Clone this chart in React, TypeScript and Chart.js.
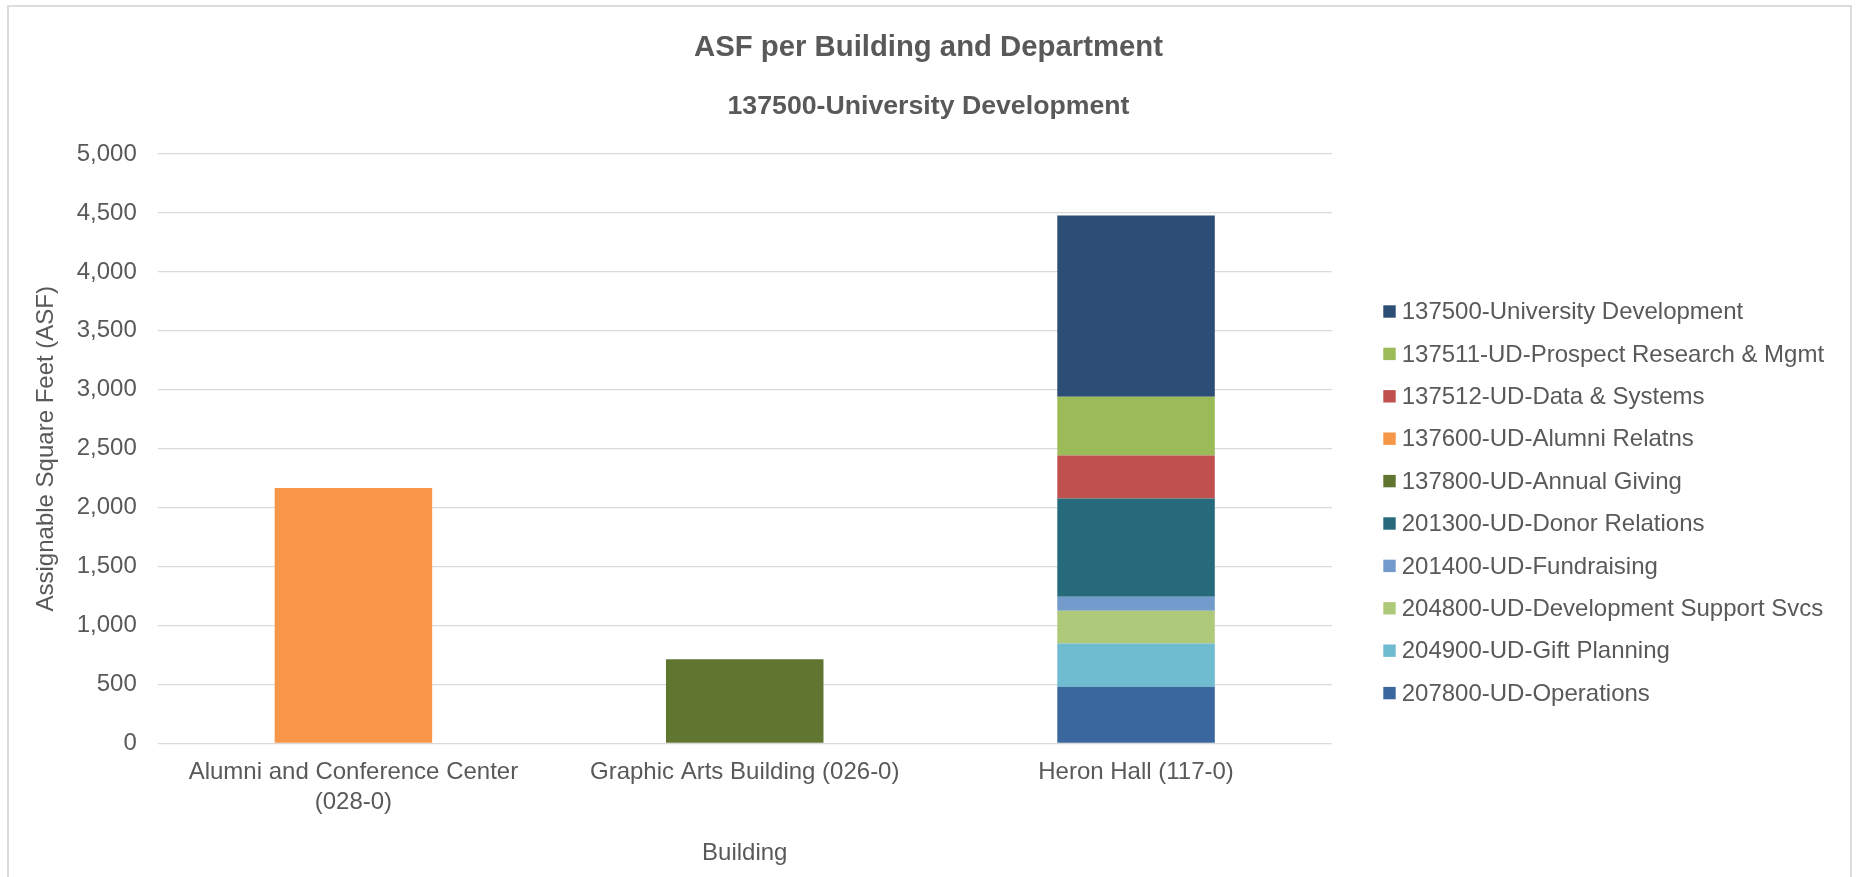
import React, { useEffect, useRef } from "react";
import { Chart, registerables } from "chart.js";

Chart.register(...registerables);

// ---- data ----
const categories: (string | string[])[] = [
  ["Alumni and Conference Center", "(028-0)"],
  "Graphic Arts Building (026-0)",
  "Heron Hall (117-0)",
];

// departments in legend order (top of legend first = top of stack)
const departments = [
  "137500-University Development",
  "137511-UD-Prospect Research & Mgmt",
  "137512-UD-Data & Systems",
  "137600-UD-Alumni Relatns",
  "137800-UD-Annual Giving",
  "201300-UD-Donor Relations",
  "201400-UD-Fundraising",
  "204800-UD-Development Support Svcs",
  "204900-UD-Gift Planning",
  "207800-UD-Operations",
];

const ud137500 = [null, null, 1536];
const ud137511 = [null, null, 500];
const ud137512 = [null, null, 363];
const ud137600 = [2168, null, null];
const ud137800 = [null, 715, null];
const ud201300 = [null, null, 834];
const ud201400 = [null, null, 118];
const ud204800 = [null, null, 279];
const ud204900 = [null, null, 366];
const ud207800 = [null, null, 482];

const seriesValues = [
  ud137500, ud137511, ud137512, ud137600, ud137800,
  ud201300, ud201400, ud204800, ud204900, ud207800,
];

const seriesColors = [
  "#2C4D75", "#9BBB59", "#C0504D", "#F79646", "#5F7530",
  "#276A7C", "#729ACA", "#AFC97A", "#6FBCD0", "#3A679D",
];

const yMin = 0;
const yMax = 5000;
const yStep = 500;

const chartTitle = "ASF per Building and Department";
const chartSubtitle = "137500-University Development";
const yAxisTitle = "Assignable Square Feet (ASF)";
const xAxisTitle = "Building";

const FONT = "'Liberation Sans', Arial, sans-serif";
const TEXT = "#595959";
const LEGEND_WIDTH = 525.3;

const legendPlugin = {
  id: "sideLegend",
  afterDraw(chart: any) {
    const { ctx, chartArea } = chart;
    const ds = chart.data.datasets;
    const x0 = chartArea.right + 51.6;
    const y0 = chartArea.top + 157.5;
    const step = 42.4;
    const box = 12.4;
    ctx.save();
    ctx.font = `24px ${FONT}`;
    ctx.textBaseline = "middle";
    ctx.textAlign = "left";
    for (let i = 0; i < ds.length; i++) {
      const d = ds[ds.length - 1 - i];
      const y = y0 + i * step;
      ctx.fillStyle = d.backgroundColor;
      ctx.fillRect(x0, y - box / 2, box, box);
      ctx.fillStyle = TEXT;
      ctx.fillText(d.label, x0 + 18.4, y + 1);
    }
    ctx.restore();
  },
};

export default function App() {
  const ref = useRef<HTMLCanvasElement>(null);

  useEffect(() => {
    if (!ref.current) return;
    // dataset order: bottom of stack first
    const datasets = departments
      .map((name, i) => ({
        label: name,
        data: seriesValues[i],
        backgroundColor: seriesColors[i],
        borderWidth: 0,
        barPercentage: 0.4025,
        categoryPercentage: 1,
        yAxisID: "y",
      }))
      .reverse();

    const chart = new Chart(ref.current, {
      type: "bar",
      data: { labels: categories as any, datasets },
      plugins: [legendPlugin],
      options: {
        responsive: false,
        animation: false,
        devicePixelRatio: 1,
        layout: { padding: { left: 0, right: 0, top: 0, bottom: 9.6 } },
        plugins: {
          legend: { display: false },
          tooltip: { enabled: false },
          title: {
            display: true,
            text: chartTitle,
            color: TEXT,
            font: { family: FONT, size: 29.3, weight: "bold", lineHeight: 1.2 },
            padding: { top: 29.9, bottom: 0 },
          },
          subtitle: {
            display: true,
            text: chartSubtitle,
            color: TEXT,
            font: { family: FONT, size: 26.7, weight: "bold", lineHeight: 1.2 },
            padding: { top: 25.6, bottom: 31.3 },
          },
        },
        scales: {
          x: {
            stacked: true,
            grid: { display: false, drawTicks: false },
            border: { display: false },
            ticks: {
              color: TEXT,
              font: { family: FONT, size: 24, lineHeight: 1.25 },
              padding: 13.5,
              maxRotation: 0,
              autoSkip: false,
            },
            title: {
              display: true,
              text: xAxisTitle,
              color: TEXT,
              font: { family: FONT, size: 24, lineHeight: 1.2 },
              padding: { top: 8.1, bottom: 0 },
            },
          },
          y: {
            stacked: true,
            min: yMin,
            max: yMax,
            grid: { color: "#d9d9d9", lineWidth: 1.3, drawTicks: false },
            border: { display: false },
            ticks: {
              stepSize: yStep,
              color: TEXT,
              font: { family: FONT, size: 24, lineHeight: 1.2 },
              padding: 21,
              callback: (v: any) => Number(v).toLocaleString("en-US"),
            },
            title: {
              display: true,
              text: yAxisTitle,
              color: TEXT,
              font: { family: FONT, size: 24, lineHeight: 0.8 },
              padding: { top: 36.4, bottom: 0.1 },
            },
          },
          legendSpace: {
            type: "linear",
            position: "right",
            display: true,
            min: yMin,
            max: yMax,
            grid: { display: false, drawOnChartArea: false, drawTicks: false },
            border: { display: false },
            ticks: { display: false },
            afterFit: (scale: any) => {
              scale.width = LEGEND_WIDTH;
            },
          },
        },
      },
    });
    return () => chart.destroy();
  }, []);

  return (
    <div style={{ position: "fixed", left: 0, top: 0, width: 1857, height: 877, overflow: "hidden", background: "#fff" }}>
      <div
        style={{
          position: "absolute",
          left: 7,
          top: 5,
          width: 1845,
          height: 1000,
          boxSizing: "border-box",
          border: "2px solid #dcdcdc",
        }}
      />
      <canvas ref={ref} width={1857} height={877} style={{ position: "absolute", left: 0, top: 0 }} />
    </div>
  );
}
